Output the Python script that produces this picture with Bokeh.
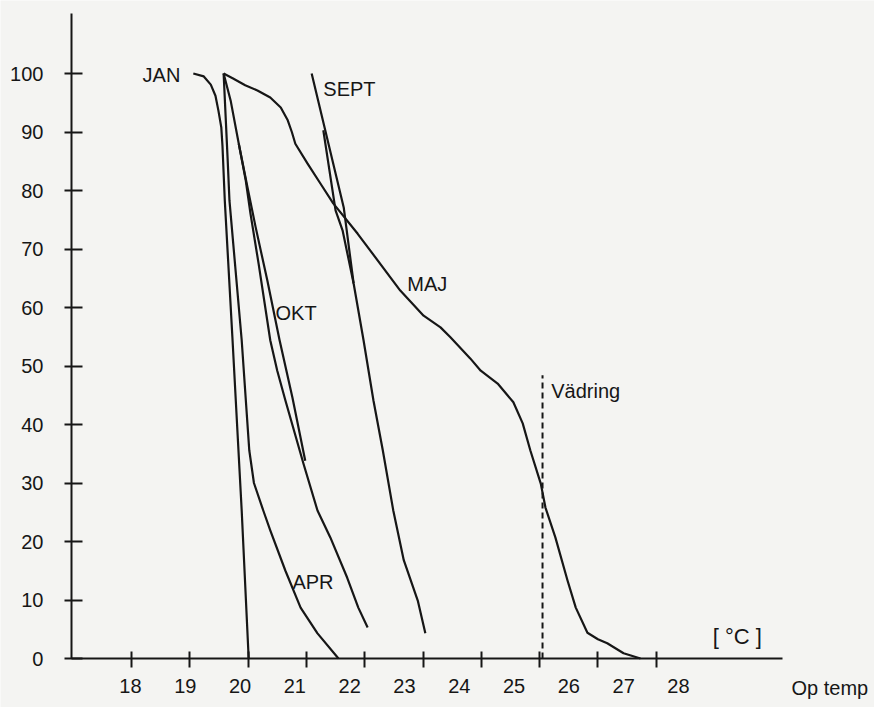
from bokeh.plotting import figure
from bokeh.models import Range1d, LinearAxis, FixedTicker, ColumnDataSource
from bokeh.core.properties import value
from bokeh.embed import file_html
from bokeh.resources import INLINE

# ---- data ----
x_ticks = [18, 19, 20, 21, 22, 23, 24, 25, 26, 27]
x_tick_labels = [18, 19, 20, 21, 22, 23, 24, 25, 26, 27, 28]
y_ticks = [0, 10, 20, 30, 40, 50, 60, 70, 80, 90, 100]

jan_x = [19.06, 19.24, 19.36, 19.44, 19.49, 19.54, 19.56, 19.60, 19.73, 19.89, 20.01]
jan_y = [100, 99.5, 98.1, 96.2, 93.7, 90.8, 87.7, 78.3, 55.0, 25.3, 0]

apr_x = [19.58, 19.65, 19.68, 19.89, 20.02, 20.10, 20.26, 20.38, 20.64, 20.90, 21.19, 21.55]
apr_y = [100, 85.1, 78.3, 54.4, 35.6, 30.0, 25.3, 21.9, 15.0, 8.7, 4.3, 0]

okt_x = [19.58, 19.70, 19.84, 19.96, 20.04, 20.18, 20.38, 20.50, 20.64, 20.95,
         21.19, 21.41, 21.70, 21.89, 22.05]
okt_y = [100, 95.4, 88.0, 81.7, 76.1, 67.5, 54.4, 49.2, 44.1, 33.3,
         25.3, 20.7, 13.8, 8.7, 5.3]
okt2_x = [19.84, 19.99, 20.13, 20.33, 20.54, 20.76, 20.98]
okt2_y = [88.0, 80.5, 73.7, 64.6, 54.4, 44.6, 33.8]

sept_x = [21.09, 21.64, 21.81, 21.98, 22.15, 22.31, 22.49, 22.67, 22.91, 23.04]
sept_y = [100, 77.1, 64.1, 54.4, 44.1, 35.6, 25.3, 16.8, 9.9, 4.3]
sept2_x = [21.29, 21.50, 21.62, 21.81]
sept2_y = [90.3, 76.6, 73.2, 64.1]

maj_x = [19.58, 19.75, 19.95, 20.16, 20.38, 20.56, 20.68, 20.75, 20.81, 21.02,
         21.24, 21.46, 21.88, 22.61, 23.01, 23.30, 23.47, 23.81, 23.99, 24.28,
         24.55, 24.71, 24.84, 25.02, 25.10, 25.27, 25.48, 25.62, 25.82, 26.00,
         26.16, 26.44, 26.73]
maj_y = [100, 99.1, 98.0, 97.1, 95.9, 94.2, 92.0, 90.0, 88.0, 84.6,
         81.2, 77.8, 72.6, 62.9, 58.6, 56.6, 54.9, 51.3, 49.2, 47.0,
         43.8, 40.2, 35.6, 29.9, 25.8, 20.7, 13.3, 8.7, 4.4, 3.3,
         2.6, 0.9, 0]

vadring_x = 25.05
vadring_y = [0, 48.4]

label_text = ["JAN", "SEPT", "MAJ", "OKT", "APR", "Vädring", "Op temp"]
label_x = [18.19, 21.29, 22.73, 20.47, 20.76, 25.20, 29.32]
label_y = [99.7, 97.4, 64.1, 59.1, 13.0, 45.8, -5.0]

unit_text = ["[ °C ]"]
unit_x = [28.39]
unit_y = [3.8]

# ---- figure ----
INK = "#161616"
BG = "#f4f4f2"
FONT = "Liberation Sans"

p = figure(width=874, height=707, output_backend="svg", toolbar_location=None,
           x_range=Range1d(15.753, 30.744), y_range=Range1d(-8.376, 112.479),
           x_axis_type=None, y_axis_type=None, min_border=0)
p.extra_x_ranges = {"lbl": Range1d(15.628, 31.577)}
p.background_fill_color = BG
p.border_fill_color = BG
p.outline_line_color = None

# x axis: tick marks
xa = LinearAxis(ticker=FixedTicker(ticks=x_ticks), fixed_location=0,
                bounds=(16.97, 29.17))
xa.axis_line_color = INK
xa.axis_line_width = 2
xa.major_tick_line_color = INK
xa.major_tick_line_width = 2
xa.major_tick_in = 7
xa.major_tick_out = 9
xa.minor_tick_line_color = None
xa.major_label_text_alpha = 0
xa.major_label_text_font_size = "1px"
p.add_layout(xa, "below")

# x axis: labels
xl = LinearAxis(x_range_name="lbl", ticker=FixedTicker(ticks=x_tick_labels),
                fixed_location=0)
xl.axis_line_color = None
xl.major_tick_line_color = None
xl.minor_tick_line_color = None
xl.major_tick_in = 0
xl.major_tick_out = 0
xl.major_label_standoff = 20
xl.major_label_text_font = FONT
xl.major_label_text_font_size = "20px"
xl.major_label_text_color = INK
p.add_layout(xl, "below")

# y axis
ya = LinearAxis(ticker=FixedTicker(ticks=y_ticks), fixed_location=16.97,
                bounds=(0, 110.3))
ya.axis_line_color = INK
ya.axis_line_width = 2
ya.major_tick_line_color = INK
ya.major_tick_line_width = 2
ya.major_tick_in = 11
ya.major_tick_out = 7
ya.minor_tick_line_color = None
ya.major_label_standoff = 21
ya.major_label_text_font = FONT
ya.major_label_text_font_size = "20px"
ya.major_label_text_color = INK
p.add_layout(ya, "left")

# curves
for xs, ys in [(jan_x, jan_y), (apr_x, apr_y), (okt_x, okt_y), (okt2_x, okt2_y),
               (sept_x, sept_y), (sept2_x, sept2_y), (maj_x, maj_y)]:
    p.line(xs, ys, line_color=INK, line_width=2.2, line_join="round")

p.line([vadring_x, vadring_x], vadring_y, line_color=INK, line_width=2,
       line_dash="6 4")

src = ColumnDataSource(dict(x=label_x, y=label_y, t=label_text))
p.text(x="x", y="y", text="t", source=src, text_font=value(FONT),
       text_font_size="20px", text_color=INK, text_align="left",
       text_baseline="middle")

usrc = ColumnDataSource(dict(x=unit_x, y=unit_y, t=unit_text))
p.text(x="x", y="y", text="t", source=usrc, text_font=value(FONT),
       text_font_size="22px", text_color=INK, text_align="center",
       text_baseline="middle")

open("out.html", "w").write(file_html(p, INLINE))
